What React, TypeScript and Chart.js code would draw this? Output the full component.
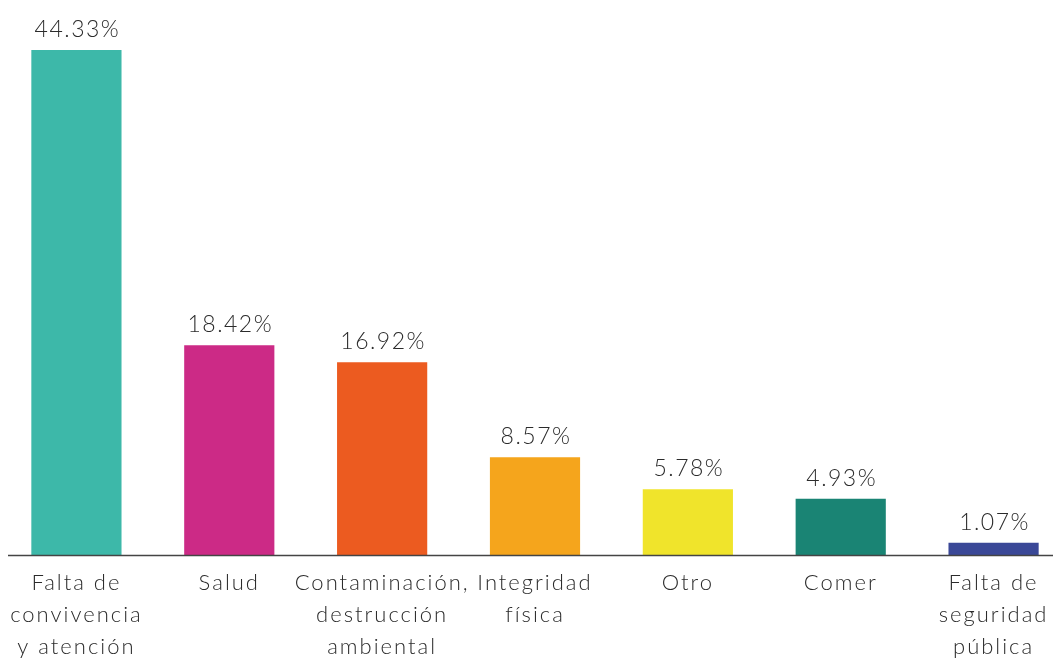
import React, { useEffect, useRef } from "react";
import { Chart, registerables } from "chart.js";

Chart.register(...registerables);

const categories: string[][] = [
  ["Falta de", "convivencia", "y atención"],
  ["Salud"],
  ["Contaminación,", "destrucción", "ambiental"],
  ["Integridad", "física"],
  ["Otro"],
  ["Comer"],
  ["Falta de", "seguridad", "pública"],
];
const values: number[] = [44.33, 18.42, 16.92, 8.57, 5.78, 4.93, 1.07];
const valueLabels: string[] = ["44.33%", "18.42%", "16.92%", "8.57%", "5.78%", "4.93%", "1.07%"];
const colors: string[] = ["#3db8a9", "#cc2a86", "#ec5b20", "#f5a51c", "#f0e42b", "#1a8474", "#3a4897"];

const FONT = "Lato, 'Noto Sans', sans-serif";

const spacingPlugin = {
  id: "spacing",
  beforeDraw(chart: any) {
    chart.ctx.letterSpacing = "2px";
  },
  afterDraw(chart: any) {
    chart.ctx.letterSpacing = "0px";
  },
};

const valueLabelPlugin = {
  id: "valueLabels",
  afterDatasetsDraw(chart: any) {
    const ctx = chart.ctx;
    const meta = chart.getDatasetMeta(0);
    ctx.save();
    ctx.letterSpacing = "1.5px";
    ctx.font = `300 23px ${FONT}`;
    ctx.fillStyle = "#2b2b2b";
    ctx.textAlign = "center";
    ctx.textBaseline = "alphabetic";
    meta.data.forEach((bar: any, i: number) => {
      ctx.fillText(valueLabels[i], bar.x + 1, bar.y - 13);
    });
    ctx.restore();
  },
};

const axisLinePlugin = {
  id: "axisLine",
  afterDatasetsDraw(chart: any) {
    const ctx = chart.ctx;
    const y = chart.chartArea.bottom;
    ctx.save();
    ctx.strokeStyle = "#444";
    ctx.lineWidth = 1.5;
    ctx.beginPath();
    ctx.moveTo(8, y + 0.5);
    ctx.lineTo(1053, y + 0.5);
    ctx.stroke();
    ctx.restore();
  },
};

export default function App() {
  const ref = useRef<HTMLCanvasElement | null>(null);
  useEffect(() => {
    if (!ref.current) return;
    const chart = new Chart(ref.current, {
      type: "bar",
      data: {
        labels: categories,
        datasets: [
          {
            data: values,
            backgroundColor: colors,
            borderWidth: 0,
            barPercentage: 0.59,
            categoryPercentage: 1,
          },
        ],
      },
      options: {
        animation: false,
        responsive: false,
        maintainAspectRatio: false,
        layout: { padding: { top: 50, left: 0, right: 0, bottom: 0 } },
        plugins: { legend: { display: false }, tooltip: { enabled: false } },
        scales: {
          y: { display: false, min: 0, max: 44.33 },
          x: {
            grid: { display: false, drawTicks: false },
            border: { display: false },
            ticks: {
              color: "#2b2b2b",
              font: { family: FONT, size: 22, weight: "300", lineHeight: 1.45 },
              padding: 12,
              maxRotation: 0,
              autoSkip: false,
            },
            afterFit(scale: any) {
              scale.height = 104;
            },
          },
        },
      },
      plugins: [spacingPlugin, valueLabelPlugin, axisLinePlugin],
    });
    return () => chart.destroy();
  }, []);
  return (
    <div style={{ position: "absolute", left: 0, top: 0, width: 1053, height: 659, overflow: "hidden", background: "#fff" }}>
      <canvas ref={ref} width={1070} height={659} style={{ display: "block", width: 1070, height: 659 }} />
    </div>
  );
}
